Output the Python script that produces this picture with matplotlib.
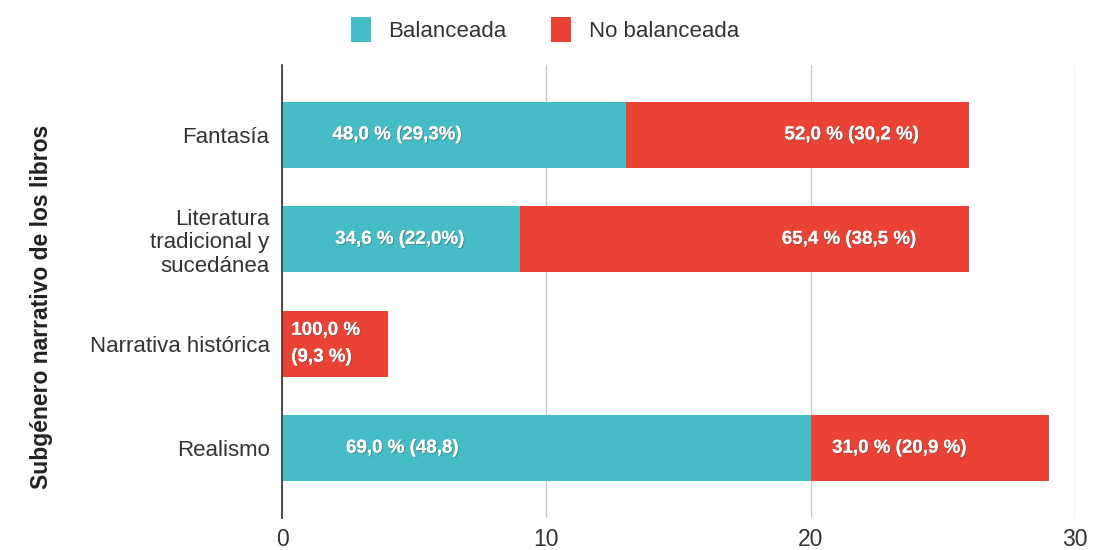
# barras horizontais empilhadas: subgénero narrativo x balanceada / no balanceada

import matplotlib.pyplot as plt
import matplotlib.patheffects as pe

plt.rcParams['font.family'] = ['Liberation Sans', 'DejaVu Sans']

categorias = ['Fantasía', 'Literatura\ntradicional y\nsucedánea', 'Narrativa histórica', 'Realismo']
balanceada = [13, 9, 0, 20]
no_balanceada = [13, 17, 4, 9]

etiq_bal = ['48,0 % (29,3%)', '34,6 % (22,0%)', '', '69,0 % (48,8)']
etiq_nobal = ['52,0 % (30,2 %)', '65,4 % (38,5 %)', '100,0 %\n(9,3 %)', '31,0 % (20,9 %)']
# posições x dos textos (como no gráfico original)
x_bal = [4.35, 4.45, 0, 4.55]
x_nobal = [21.55, 21.45, 0.35, 23.35]

cor_bal = '#46BDC6'
cor_nobal = '#EA4335'

fig = plt.figure(figsize=(10.94, 5.5), dpi=100)
ax = fig.add_axes([0.2578, 0.058, 0.7248, 0.824])

y = list(range(len(categorias)))
ax.barh(y, balanceada, height=0.63, color=cor_bal, label='Balanceada', zorder=3)
ax.barh(y, no_balanceada, left=balanceada, height=0.63, color=cor_nobal, label='No balanceada', zorder=3)

sombra = [pe.withSimplePatchShadow(offset=(0.8, -0.8), shadow_rgbFace='#555555', alpha=0.5), pe.Normal()]
for i in y:
    if etiq_bal[i]:
        ax.text(x_bal[i], i, etiq_bal[i], color='white', fontsize=13.5, fontweight='bold',
                ha='center', va='center', zorder=4, path_effects=sombra)
    if no_balanceada[i] < 5:
        ax.text(x_nobal[i], i, etiq_nobal[i], color='white', fontsize=13.5, fontweight='bold',
                ha='left', va='center', zorder=4, linespacing=1.75, path_effects=sombra)
    else:
        ax.text(x_nobal[i], i, etiq_nobal[i], color='white', fontsize=13.5, fontweight='bold',
                ha='center', va='center', zorder=4, path_effects=sombra)

ax.set_xlim(0, 30)
ax.set_ylim(3.67, -0.67)
ax.set_xticks([0, 10, 20, 30])
ax.set_yticks(y)
ax.set_yticklabels(categorias)
ax.tick_params(axis='both', length=0, colors='#333333', labelsize=16)
ax.tick_params(axis='x', pad=7, labelsize=16.5)
ax.tick_params(axis='y', pad=9)
for t in ax.get_yticklabels():
    t.set_linespacing(1.15)
ax.xaxis.grid(True, color='#cccccc', linewidth=1, zorder=0)
for s in ['top', 'right', 'bottom']:
    ax.spines[s].set_visible(False)
ax.spines['left'].set_color('#333333')
ax.spines['left'].set_linewidth(1.2)
ax.spines['left'].set_zorder(5)

fig.text(0.038, 0.442, 'Subgénero narrativo de los libros', rotation=90, fontsize=16.5,
         fontweight='bold', color='#222222', ha='center', va='center')

fig.legend(loc='center', bbox_to_anchor=(0.498, 0.946), ncol=2, frameon=False, fontsize=16,
           handlelength=0.9, handleheight=1.3, handletextpad=0.8, columnspacing=2.0,
           labelcolor='#333333')

plt.savefig('out.png', dpi=100)
